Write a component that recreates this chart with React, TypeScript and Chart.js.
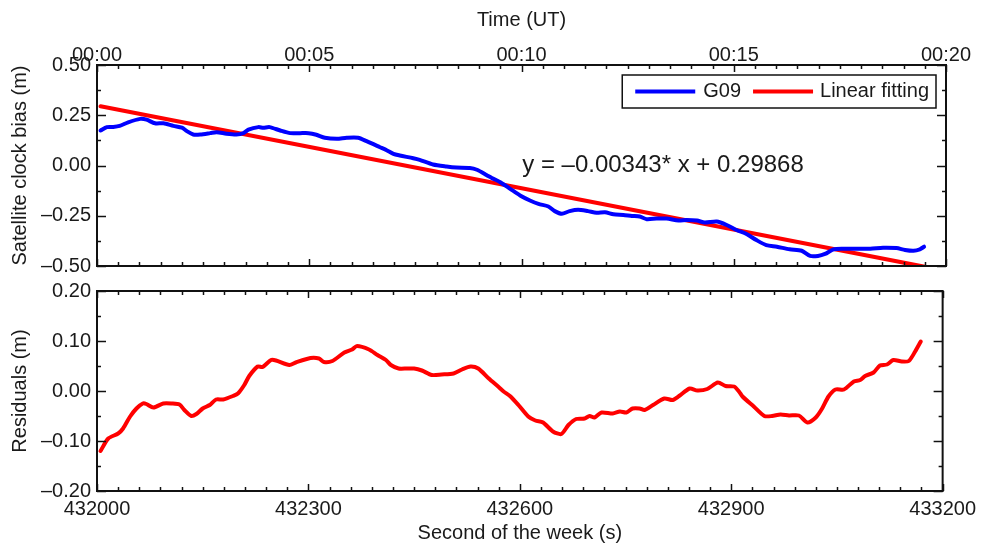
import React, { useEffect, useRef } from "react";
import { Chart, registerables } from "chart.js";

Chart.register(...registerables);

// ---------------- data ----------------
const WEEK_START = 432000; // second of the week at 00:00 UT

// G09 satellite clock bias (m), seconds after WEEK_START
const g09Sec = [5, 14, 23, 32, 44, 61, 70, 82, 94, 108, 120, 127, 136, 146, 160, 169, 183, 197, 207, 214, 228, 235, 244, 259, 273, 287, 299, 310, 322, 339, 353, 369, 381, 400, 410, 419, 428, 447, 456, 475, 494, 508, 527, 537, 551, 558, 570, 584, 598, 612, 624, 638, 647, 657, 668, 680, 694, 706, 718, 730, 744, 756, 767, 777, 791, 805, 822, 833, 848, 859, 876, 890, 904, 918, 932, 946, 961, 979, 996, 1008, 1019, 1029, 1041, 1055, 1074, 1093, 1111, 1130, 1142, 1154, 1163, 1169];
const g09Bias = [0.174, 0.191, 0.192, 0.197, 0.215, 0.232, 0.228, 0.21, 0.21, 0.197, 0.188, 0.171, 0.154, 0.154, 0.161, 0.166, 0.158, 0.154, 0.161, 0.178, 0.191, 0.188, 0.191, 0.174, 0.161, 0.161, 0.161, 0.153, 0.138, 0.133, 0.138, 0.138, 0.121, 0.091, 0.075, 0.058, 0.05, 0.036, 0.028, 0.005, -0.005, -0.01, -0.012, -0.021, -0.048, -0.062, -0.083, -0.116, -0.149, -0.174, -0.191, -0.204, -0.227, -0.24, -0.227, -0.22, -0.227, -0.235, -0.233, -0.243, -0.246, -0.251, -0.254, -0.267, -0.264, -0.264, -0.274, -0.271, -0.274, -0.284, -0.279, -0.296, -0.321, -0.341, -0.371, -0.396, -0.404, -0.417, -0.424, -0.45, -0.45, -0.44, -0.417, -0.414, -0.414, -0.414, -0.409, -0.411, -0.42, -0.424, -0.417, -0.404];

// Linear fitting end points
const fitSec = [5, 1170];
const fitBias = [0.295, -0.504];

// Residuals (m)
const resSec = [5, 16, 30, 37, 47, 56, 65, 70, 80, 94, 106, 117, 124, 134, 141, 150, 160, 169, 179, 193, 200, 209, 216, 228, 235, 247, 254, 273, 282, 303, 315, 322, 334, 351, 362, 369, 386, 398, 410, 417, 428, 440, 450, 461, 475, 489, 506, 518, 530, 541, 556, 570, 577, 586, 598, 612, 622, 633, 647, 659, 669, 680, 692, 699, 706, 716, 732, 742, 751, 760, 770, 777, 789, 805, 817, 826, 841, 852, 866, 881, 892, 904, 911, 916, 932, 947, 958, 970, 982, 996, 1008, 1020, 1029, 1038, 1048, 1060, 1074, 1083, 1090, 1102, 1111, 1121, 1130, 1142, 1152, 1161, 1169];
const resVal = [-0.12, -0.095, -0.085, -0.075, -0.051, -0.035, -0.025, -0.026, -0.033, -0.025, -0.025, -0.027, -0.038, -0.05, -0.046, -0.035, -0.028, -0.017, -0.017, -0.01, -0.005, 0.012, 0.03, 0.049, 0.048, 0.062, 0.061, 0.052, 0.057, 0.066, 0.065, 0.058, 0.06, 0.077, 0.083, 0.09, 0.083, 0.072, 0.062, 0.052, 0.045, 0.045, 0.045, 0.041, 0.032, 0.033, 0.035, 0.043, 0.049, 0.045, 0.025, 0.008, -0.001, -0.01, -0.028, -0.051, -0.059, -0.063, -0.081, -0.086, -0.068, -0.056, -0.055, -0.05, -0.053, -0.043, -0.045, -0.041, -0.043, -0.035, -0.035, -0.038, -0.028, -0.015, -0.018, -0.01, 0.005, 0.001, 0.004, 0.017, 0.01, 0.009, -0.001, -0.011, -0.031, -0.05, -0.05, -0.047, -0.049, -0.049, -0.063, -0.053, -0.035, -0.011, 0.003, 0.003, 0.019, 0.022, 0.03, 0.037, 0.051, 0.053, 0.062, 0.059, 0.06, 0.079, 0.099];

const timeTickLabels = ["00:00", "00:05", "00:10", "00:15", "00:20"];
const equationText = "y = \u20130.00343* x + 0.29868";
const legendLabels = ["G09", "Linear fitting"];

// ---------------- styles ----------------
const FONT = "'Liberation Sans', Arial, Helvetica, sans-serif";
const TEXT = "#1a1a1a";
const BLUE = "#0000ff";
const RED = "#ff0000";

const fmt = (v: number, d: number) => {
  const a = Math.abs(v);
  const s = a < 1e-9 ? (0).toFixed(d) : a.toFixed(d);
  return v < -1e-9 ? "\u2013" + s : s;
};

const framePlugin = {
  id: "frameTicks",
  afterDatasetsDraw(chart: any, _args: any, opts: any) {
    const { ctx, chartArea: a } = chart;
    const xs = chart.scales.x;
    const ys = chart.scales.y;
    ctx.save();
    ctx.strokeStyle = "#111";
    ctx.lineWidth = 2;
    ctx.strokeRect(a.left, a.top, a.right - a.left, a.bottom - a.top);
    ctx.lineWidth = 1.5;
    const seg = (x1: number, y1: number, x2: number, y2: number) => {
      ctx.beginPath();
      ctx.moveTo(x1, y1);
      ctx.lineTo(x2, y2);
      ctx.stroke();
    };
    let i = 0;
    for (let v = xs.min; v <= xs.max + 1e-6; v += opts.xMinor, i++) {
      const major = i % opts.xMajorEvery === 0;
      const px = Math.round(xs.getPixelForValue(v)) + 0.5;
      const len = major ? 7 : 4;
      seg(px, a.bottom, px, a.bottom - len);
      seg(px, a.top, px, a.top + len);
    }
    const n = Math.round((ys.max - ys.min) / opts.yMinor);
    for (let k = 0; k <= n; k++) {
      const v = ys.min + k * opts.yMinor;
      const major = k % opts.yMajorEvery === 0;
      const py = Math.round(ys.getPixelForValue(v)) + 0.5;
      const len = major ? 9 : 4;
      seg(a.left, py, a.left + len, py);
      seg(a.right, py, a.right - len, py);
    }

    if (opts.legend) {
      ctx.font = `20px ${FONT}`;
      ctx.textBaseline = "middle";
      const w1 = ctx.measureText(legendLabels[0]).width;
      const w2 = ctx.measureText(legendLabels[1]).width;
      const lineLen = 60;
      const boxW = 13 + lineLen + 8 + w1 + 12 + lineLen + 7 + w2 + 7;
      const right = a.right - 10;
      const left = right - boxW;
      const top = a.top + 10;
      const h = 33;
      const cy = top + h / 2;
      ctx.fillStyle = "#fff";
      ctx.fillRect(left, top, boxW, h);
      ctx.lineWidth = 1.5;
      ctx.strokeStyle = "#111";
      ctx.strokeRect(left, top, boxW, h);
      let x = left + 13;
      ctx.lineWidth = 4;
      ctx.strokeStyle = BLUE;
      seg(x, cy, x + lineLen, cy);
      x += lineLen + 8;
      ctx.fillStyle = TEXT;
      ctx.textAlign = "left";
      ctx.fillText(legendLabels[0], x, cy);
      x += w1 + 12;
      ctx.strokeStyle = RED;
      seg(x, cy, x + lineLen, cy);
      x += lineLen + 7;
      ctx.fillText(legendLabels[1], x, cy);
    }
    if (opts.equation) {
      ctx.font = `24px ${FONT}`;
      ctx.fillStyle = TEXT;
      ctx.textAlign = "left";
      ctx.textBaseline = "middle";
      const ex = xs.getPixelForValue(WEEK_START + 601);
      const ey = ys.getPixelForValue(0);
      ctx.fillText(equationText, ex, ey);
    }
    ctx.restore();
  },
};

const lineDs = (label: string, xs: number[], ys: number[], color: string) => ({
  label,
  data: xs.map((s, i) => ({ x: WEEK_START + s, y: ys[i] })),
  borderColor: color,
  backgroundColor: color,
  borderWidth: 4,
  pointRadius: 0,
  tension: 0.25,
  fill: false,
  borderJoinStyle: "round" as const,
  borderCapStyle: "round" as const,
});

const tickFont = { family: FONT, size: 20 };

export default function App() {
  const topRef = useRef<HTMLCanvasElement>(null);
  const botRef = useRef<HTMLCanvasElement>(null);

  useEffect(() => {
    const top = new Chart(topRef.current as HTMLCanvasElement, {
      type: "line",
      data: {
        datasets: [
          lineDs("G09", g09Sec, g09Bias, BLUE),
          lineDs("Linear fitting", fitSec, fitBias, RED),
        ],
      },
      options: {
        animation: false,
        responsive: false,
        maintainAspectRatio: false,
        devicePixelRatio: 1,
        layout: { padding: { left: 0, right: 36, top: 0, bottom: 18 } },
        plugins: {
          legend: { display: false },
          tooltip: { enabled: false },
          frameTicks: { xMinor: 30, xMajorEvery: 10, yMinor: 0.125, yMajorEvery: 2, legend: true, equation: true },
        } as any,
        scales: {
          x: { type: "linear", display: false, min: WEEK_START, max: WEEK_START + 1200 },
          xTop: {
            type: "linear",
            position: "top",
            min: 0,
            max: 1200,
            grid: { display: false, drawTicks: false },
            border: { display: false },
            ticks: {
              stepSize: 300,
              autoSkip: false,
              maxRotation: 0,
              padding: -2,
              color: TEXT,
              font: tickFont,
              callback: (v: any) => timeTickLabels[Math.round(Number(v) / 300)],
            },
            title: { display: true, text: "Time (UT)", color: TEXT, font: tickFont, padding: { top: 8, bottom: 0 } },
            afterFit: (s: any) => { s.height = 65; },
          },
          y: {
            type: "linear",
            position: "left",
            min: -0.5,
            max: 0.5,
            grid: { display: false, drawTicks: false },
            border: { display: false },
            ticks: { stepSize: 0.25, padding: 6, color: TEXT, font: tickFont, callback: (v: any) => fmt(Number(v), 2) },
            title: { display: true, text: "Satellite clock bias (m)", color: TEXT, font: tickFont, padding: { top: 8, bottom: 0 } },
            afterFit: (s: any) => { s.width = 97; },
          },
        } as any,
      },
      plugins: [framePlugin],
    });

    const bot = new Chart(botRef.current as HTMLCanvasElement, {
      type: "line",
      data: { datasets: [lineDs("Residuals", resSec, resVal, RED)] },
      options: {
        animation: false,
        responsive: false,
        maintainAspectRatio: false,
        devicePixelRatio: 1,
        layout: { padding: { left: 0, right: 36, top: 18, bottom: 0 } },
        plugins: {
          legend: { display: false },
          tooltip: { enabled: false },
          frameTicks: { xMinor: 30, xMajorEvery: 10, yMinor: 0.05, yMajorEvery: 2 },
        } as any,
        scales: {
          x: {
            type: "linear",
            position: "bottom",
            min: WEEK_START,
            max: WEEK_START + 1200,
            grid: { display: false, drawTicks: false },
            border: { display: false },
            ticks: { stepSize: 300, autoSkip: false, maxRotation: 0, padding: 6, color: TEXT, font: tickFont, callback: (v: any) => String(Math.round(Number(v))) },
            title: { display: true, text: "Second of the week (s)", color: TEXT, font: tickFont, padding: { top: 0, bottom: 1 } },
            afterFit: (s: any) => { s.height = 55; },
          },
          y: {
            type: "linear",
            position: "left",
            min: -0.2,
            max: 0.2,
            grid: { display: false, drawTicks: false },
            border: { display: false },
            ticks: { stepSize: 0.1, padding: 6, color: TEXT, font: tickFont, callback: (v: any) => fmt(Number(v), 2) },
            title: { display: true, text: "Residuals (m)", color: TEXT, font: tickFont, padding: { top: 8, bottom: 0 } },
            afterFit: (s: any) => { s.width = 97; },
          },
        } as any,
      },
      plugins: [framePlugin],
    });

    return () => {
      top.destroy();
      bot.destroy();
    };
  }, []);

  return (
    <div style={{ position: "fixed", left: 0, top: 0, width: 982, height: 546, background: "#fff" }}>
      <canvas ref={botRef} width={982} height={273} style={{ position: "absolute", left: 0, top: 273, width: 982, height: 273 }} />
      <canvas ref={topRef} width={982} height={284} style={{ position: "absolute", left: 0, top: 0, width: 982, height: 284 }} />
    </div>
  );
}
